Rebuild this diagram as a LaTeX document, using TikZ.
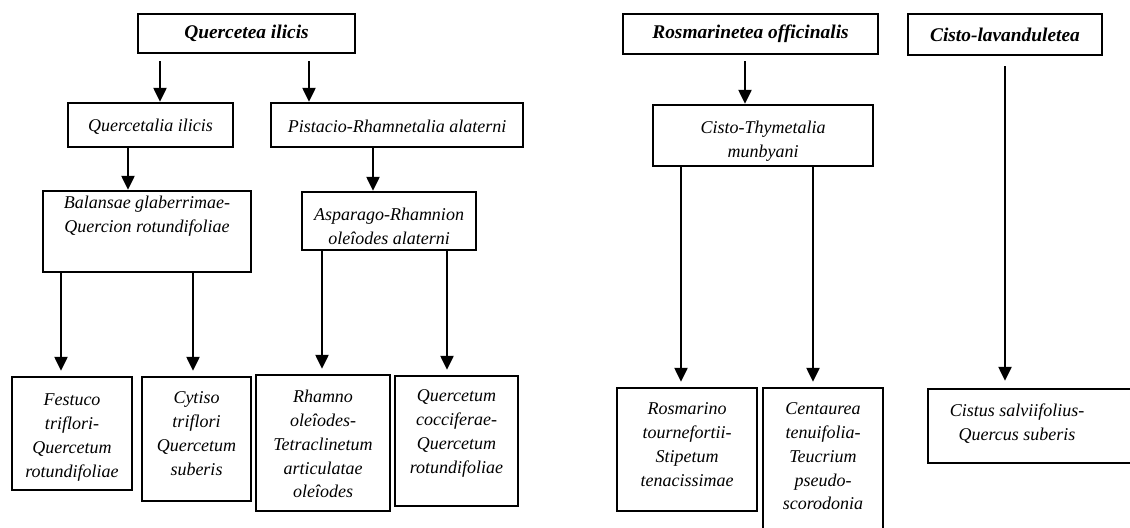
\documentclass[tikz,border=0pt]{standalone}
\usepackage{fontspec}
\setmainfont{Liberation Serif}
\usetikzlibrary{arrows.meta}
\newlength\pxu \setlength\pxu{0.5pt}
% box with vertically centred text
\newcommand\bc[3]{\parbox[c][#2\pxu][c]{#1\pxu}{\centering #3\par}}
% box with top-aligned text
\newcommand\bt[4]{\parbox[c][#2\pxu][t]{#1\pxu}{\centering\vspace*{#3\pxu}\strut #4\par}}
\newcommand\hd[1]{{\fontsize{9.7pt}{12pt}\selectfont\bfseries #1}}
\begin{document}
\begin{tikzpicture}[x=0.5pt,y=-0.5pt,
  box/.style={draw, line width=1.15pt, inner sep=0pt, rectangle,
    font=\fontsize{9pt}{11.9pt}\selectfont\itshape},
  arr/.style={line width=1.1pt, -{Triangle[width=6.5pt,length=7pt]}},
  ln/.style={line width=1.1pt}]
\path[use as bounding box] (0,0) rectangle (1130,528);
\clip (0,0) rectangle (1130,528);
\fill[white] (0,0) rectangle (1130,528);

% top level
\node[box] (Q)  at (246.5,33.5) {\bc{217}{39}{\hd{Quercetea ilicis}}};
\node[box] (RO) at (750.5,34)   {\bc{255}{40}{\hd{Rosmarinetea officinalis}}};
\node[box] (CL) at (1005,34.5)  {\bc{194}{41}{\hd{Cisto-lavanduletea}}};

% orders
\node[box] (QI) at (150.5,125) {\bc{165}{44}{\vspace*{3\pxu}Quercetalia ilicis}};
\node[box] (PR) at (397,125)   {\bc{252}{44}{\vspace*{3\pxu}Pistacio-Rhamnetalia alaterni}};
\node[box] (CT) at (763,135.5) {\bt{220}{61}{12}{Cisto-Thymetalia\\munbyani}};

% alliances
\node[box] (BQ) at (147,231.5) {\bt{208}{81}{1}{Balansae glaberrimae-\\Quercion rotundifoliae}};
\node[box] (AR) at (389,221)   {\bt{174}{58}{12}{Asparago-Rhamnion\\oleîodes alaterni}};

% associations
\node[box] (FQ)  at (72,433.5)   {\bt{120}{113}{12}{Festuco\\triflori-\\Quercetum\\rotundifoliae}};
\node[box] (CQ)  at (196.5,439)  {\bt{109}{124}{10}{Cytiso\\triflori\\Quercetum\\suberis}};
\node[box] (RT)  at (323,443)    {\bt{134}{136}{11}{Rhamno\\oleîodes-\\Tetraclinetum\\articulatae\\oleîodes}};
\node[box] (QC)  at (456.5,441)  {\bt{123}{130}{9}{Quercetum\\cocciferae-\\Quercetum\\rotundifoliae}};
\node[box] (RS)  at (687,449.5)  {\bt{140}{123}{10}{Rosmarino\\tournefortii-\\Stipetum\\tenacissimae}};
\node[box] (CTP) at (823,466.5)  {\bt{120}{157}{10}{Centaurea\\tenuifolia-\\Teucrium\\pseudo-\\scorodonia}};
\node[box] (CS)  at (1034,426)   {\bt{212}{74}{11}{\rightskip=34\pxu plus 1fil Cistus salviifolius-\\Quercus suberis}};

% x positions of connectors
\coordinate (xa) at (160,0);
\coordinate (xb) at (309,0);
\coordinate (xc) at (128,0);
\coordinate (xd) at (373,0);
\coordinate (xe) at (745,0);
\coordinate (xf) at (61,0);
\coordinate (xg) at (193,0);
\coordinate (xh) at (322,0);
\coordinate (xi) at (447,0);
\coordinate (xj) at (681,0);
\coordinate (xk) at (813,0);
\coordinate (xl) at (1005,0);

% connectors
\draw[arr, shorten <=3.5pt] (Q.south -| xa) -- (QI.north -| xa);
\draw[arr, shorten <=3.5pt] (Q.south -| xb) -- (PR.north -| xb);
\draw[arr] (QI.south -| xc) -- (BQ.north -| xc);
\draw[arr] (PR.south -| xd) -- (AR.north -| xd);
\draw[arr, shorten <=3pt] (RO.south -| xe) -- (CT.north -| xe);

\draw[arr, shorten >=2.5pt] (BQ.south -| xf) -- (FQ.north -| xf);
\draw[arr, shorten >=2.5pt] (BQ.south -| xg) -- (CQ.north -| xg);
\draw[arr, shorten >=2.5pt] (AR.south -| xh) -- (RT.north -| xh);
\draw[arr, shorten >=2.5pt] (AR.south -| xi) -- (QC.north -| xi);
\draw[arr, shorten >=2.5pt] (CT.south -| xj) -- (RS.north -| xj);
\draw[arr, shorten >=2.5pt] (CT.south -| xk) -- (CTP.north -| xk);
\draw[arr, shorten <=5pt, shorten >=3.5pt] (CL.south -| xl) -- (CS.north -| xl);
\end{tikzpicture}
\end{document}
